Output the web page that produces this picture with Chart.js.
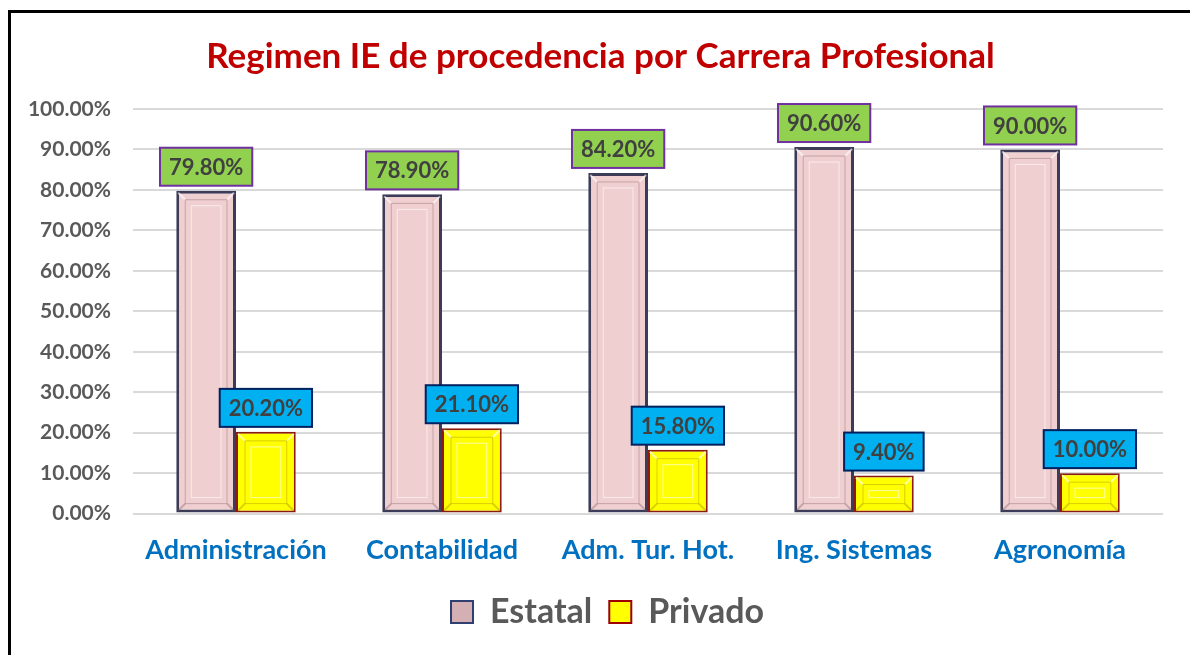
<!DOCTYPE html>
<html>
<head>
<meta charset="utf-8">
<script src="https://cdn.jsdelivr.net/npm/chart.js@4.4.1/dist/chart.umd.min.js"></script>
<style>
  html, body { margin: 0; padding: 0; background: #fff; overflow: hidden; }
  #frame {
    position: absolute; left: 8px; top: 10px;
    width: 1200px; height: 700px;
    border: 3px solid #000; box-sizing: border-box;
  }
  #wrap { position: absolute; left: 0; top: 0; width: 1190px; height: 655px; }
</style>
</head>
<body>
<div id="frame"></div>
<div id="wrap"><canvas id="chart_regimen"></canvas></div>
<script>
var carreras = ['Administración', 'Contabilidad', 'Adm. Tur. Hot.', 'Ing. Sistemas', 'Agronomía'];
var estatal = [79.8, 78.9, 84.2, 90.6, 90.0];
var privado = [20.2, 21.1, 15.8, 9.4, 10.0];
var yTicks = [0, 10, 20, 30, 40, 50, 60, 70, 80, 90, 100];

var fontFamily = 'Lato, "Open Sans", sans-serif';

// colours of the value boxes, per dataset
var labelBoxes = [
    { fill: '#92D050', stroke: '#7030A0' },
    { fill: '#00B0F0', stroke: '#002060' }
];

var valueBoxPlugin = {
    id: 'valueBoxes',
    afterDatasetsDraw: function(chart) {
        var ctx = chart.ctx;
        ctx.save();
        ctx.font = 'bold 22px ' + fontFamily;
        ctx.textAlign = 'center';
        ctx.textBaseline = 'middle';
        chart.data.datasets.forEach(function(ds, di) {
            var meta = chart.getDatasetMeta(di);
            meta.data.forEach(function(bar, i) {
                var txt = ds.data[i].toFixed(2) + '%';
                var w = ctx.measureText(txt).width + 18;
                var h = 38;
                var x = bar.x - w / 2;
                var y = bar.y - 5 - h;
                ctx.fillStyle = labelBoxes[di].fill;
                ctx.fillRect(x, y, w, h);
                ctx.lineWidth = 2;
                ctx.strokeStyle = labelBoxes[di].stroke;
                ctx.strokeRect(x, y, w, h);
                ctx.fillStyle = '#404040';
                ctx.fillText(txt, bar.x, y + h / 2 + 1);
            });
        });
        ctx.restore();
    }
};

// inner bevel look on each bar
var bevelPlugin = {
    id: 'bevel',
    afterDatasetDraw: function(chart, args) {
        var ctx = chart.ctx;
        var light = args.index === 0 ? 'rgba(255,255,255,0.6)' : 'rgba(255,255,190,0.85)';
        var dark = args.index === 0 ? 'rgba(120,80,90,0.35)' : 'rgba(150,120,0,0.35)';
        ctx.save();
        args.meta.data.forEach(function(bar) {
            var l = bar.x - bar.width / 2, r = bar.x + bar.width / 2;
            var t = bar.y, b = bar.base;
            var inset = 9;
            ctx.lineWidth = 2;
            ctx.strokeStyle = light;
            ctx.beginPath();
            ctx.moveTo(l + 2, t + 2); ctx.lineTo(l + inset, t + inset);
            ctx.moveTo(r - 2, t + 2); ctx.lineTo(r - inset, t + inset);
            ctx.stroke();
            ctx.strokeStyle = dark;
            ctx.beginPath();
            ctx.moveTo(l + 2, b - 2); ctx.lineTo(l + inset, b - inset);
            ctx.moveTo(r - 2, b - 2); ctx.lineTo(r - inset, b - inset);
            ctx.stroke();
            ctx.lineWidth = 1;
            ctx.strokeStyle = dark;
            ctx.strokeRect(l + inset, t + inset, r - l - 2 * inset, b - t - 2 * inset);
            ctx.strokeStyle = light;
            ctx.strokeRect(l + inset + 6, t + inset + 6, Math.max(0, r - l - 2 * inset - 12), Math.max(0, b - t - 2 * inset - 12));
        });
        ctx.restore();
    }
};

// title and legend sit a little right of the canvas centre in the original
var shiftPlugin = {
    id: 'shiftBlocks',
    afterLayout: function(chart) {
        if (chart.titleBlock) chart.titleBlock.left += 20;
        if (chart.legend) chart.legend.left += 34;
    }
};

function barGradient(ctx, edge, mid) {
    var chart = ctx.chart;
    var area = chart.chartArea;
    if (!area) return mid;
    var el = ctx.element;
    if (!el || el.x === undefined || !el.width) return mid;
    var g = chart.ctx.createLinearGradient(el.x - el.width / 2, 0, el.x + el.width / 2, 0);
    g.addColorStop(0, edge);
    g.addColorStop(0.18, mid);
    g.addColorStop(0.82, mid);
    g.addColorStop(1, edge);
    return g;
}

var chart_regimen = new Chart(document.getElementById('chart_regimen'), {
    type: 'bar',
    data: {
        labels: carreras,
        datasets: [
            {
                label: 'Estatal',
                data: estatal,
                backgroundColor: function(c) { return barGradient(c, '#a88a92', '#f0cfd0'); },
                borderColor: '#3c3c58',
                borderWidth: 3,
                borderSkipped: false,
                categoryPercentage: 0.58,
                barPercentage: 1.0
            },
            {
                label: 'Privado',
                data: privado,
                backgroundColor: function(c) { return barGradient(c, '#c8b400', '#ffff00'); },
                borderColor: '#8b1a10',
                borderWidth: 2,
                borderSkipped: false,
                categoryPercentage: 0.58,
                barPercentage: 1.0
            }
        ]
    },
    options: {
        animation: false,
        responsive: true,
        maintainAspectRatio: false,
        layout: { padding: { left: 18, right: 27, top: 0, bottom: 16 } },
        plugins: {
            title: {
                display: true,
                text: 'Regimen IE de procedencia por Carrera Profesional',
                color: '#C00000',
                font: { family: fontFamily, size: 35, weight: 'bold' },
                padding: { top: 36, bottom: 31 }
            },
            legend: {
                position: 'bottom',
                labels: {
                    color: '#595959',
                    font: { family: fontFamily, size: 34, weight: 'bold' },
                    boxWidth: 22,
                    boxHeight: 22,
                    padding: 17,
                    generateLabels: function(chart) {
                        var fills = ['#d4b0b4', '#ffff00'];
                        var strokes = ['#2f3f70', '#a00000'];
                        return chart.data.datasets.map(function(ds, i) {
                            return {
                                text: ds.label,
                                fillStyle: fills[i],
                                strokeStyle: strokes[i],
                                lineWidth: 2,
                                fontColor: '#595959',
                                datasetIndex: i,
                                hidden: false
                            };
                        });
                    }
                }
            },
            tooltip: { enabled: false }
        },
        scales: {
            x: {
                grid: { display: false },
                border: { display: false },
                ticks: {
                    color: '#0070C0',
                    font: { family: fontFamily, size: 27, weight: 'bold' },
                    padding: 12
                }
            },
            y: {
                min: 0,
                max: 100,
                afterFit: function(scale) { scale.width = 115; },
                afterBuildTicks: function(scale) {
                    scale.ticks = yTicks.map(function(v) { return { value: v }; });
                },
                grid: { color: '#d9d9d9', lineWidth: 2, drawTicks: false },
                border: { display: false },
                ticks: {
                    color: '#595959',
                    font: { family: fontFamily, size: 21, weight: 'bold' },
                    padding: 22,
                    callback: function(value) { return value.toFixed(2) + '%'; }
                }
            }
        }
    },
    plugins: [shiftPlugin, bevelPlugin, valueBoxPlugin]
});
</script>
</body>
</html>
